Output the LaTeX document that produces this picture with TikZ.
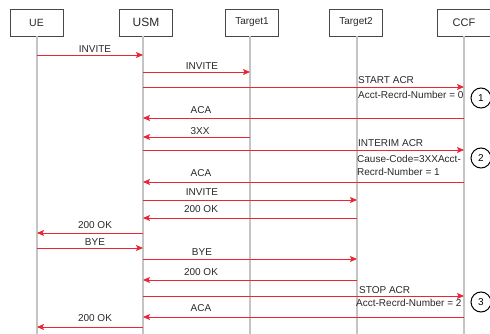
\documentclass[tikz,border=0pt]{standalone}
\usepackage{fontspec}
\setmainfont{Liberation Sans}
\usetikzlibrary{arrows.meta}
\definecolor{msgred}{RGB}{234,38,52}
\definecolor{lifegray}{RGB}{196,196,196}
\definecolor{boxgray}{RGB}{72,72,72}
\definecolor{txtgray}{RGB}{40,40,40}
\def\fs#1{\fontsize{#1}{#1}\selectfont}

\begin{document}
\begin{tikzpicture}[x=1pt,y=-1pt,
	entity/.style={draw=boxgray, line width=0.9pt, minimum width=53pt, minimum height=27pt, inner sep=0pt, text=txtgray, font=\fs{10}},
	life/.style={draw=lifegray, line width=1.3pt},
	msg/.style={draw=msgred, line width=0.9pt, -{Stealth[length=7pt,width=6pt,inset=1.5pt]}},
	msglabel/.style={anchor=base, inner sep=0pt, text=txtgray, font=\fs{10}},
	acrlabel/.style={anchor=base west, inner sep=0pt, text=txtgray, font=\fs{10}},
	stepno/.style={draw, circle, line width=1pt, minimum size=20pt, inner sep=0pt, font=\fs{10}}]
			%%%%% START %%%%%
			\useasboundingbox (0,0) rectangle (490,334);
			
			\node[entity, font=\fs{10.5}] (ue) at (36.5,22.5) {UE};
			\node[entity, font=\fs{12}] (usm) at (146,22.5) {USM};
			\node[entity] (tgt1) at (252,22.5) {Target1};
			\node[entity] (tgt2) at (356,22.5) {Target2};
			\node[entity, font=\fs{11}] (ccf) at (464,22.5) {CCF};
			
			\foreach \n/\x in {ue/37,usm/143,tgt1/250,tgt2/357,ccf/464}{
				\coordinate (\n-l) at (\x,0);
				\draw[life] (\n-l |- \n.south) -- (\n-l |- 0,334);
			}
			
			\draw[msg] (ue-l |- 0,55) -- (usm-l |- 0,55);
			\node[msglabel] (invite1) at (95,52.5) {INVITE};
			
			\draw[msg] (usm-l |- 0,72) -- (tgt1-l |- 0,72);
			\node[msglabel] (invite2) at (202,69.5) {INVITE};
			
			\draw[msg] (usm-l |- 0,87) -- (ccf-l |- 0,87);
			\node[acrlabel] (startacr) at (358,83.5) {START ACR};
			\node[acrlabel] (recnum0) at (358,98.5) {Acct-Recrd-Number = 0};
			\node[stepno] (step1) at (481,98) {1};
			
			\draw[msg] (ccf-l |- 0,118) -- (usm-l |- 0,118);
			\node[msglabel] (aca1) at (201,113.5) {ACA};
			
			\draw[msg] (tgt1-l |- 0,137) -- (usm-l |- 0,137);
			\node[msglabel] (xx) at (200,134.5) {3XX};
			
			\draw[msg] (usm-l |- 0,150) -- (ccf-l |- 0,150);
			\node[acrlabel] (interimacr) at (358,146.5) {INTERIM ACR};
			\node[acrlabel] (cause) at (357,162.5) {Cause-Code=3XXAcct-};
			\node[acrlabel] (recnum1) at (357,175.5) {Recrd-Number = 1};
			\node[stepno] (step2) at (481,158) {2};
			
			\draw[msg] (ccf-l |- 0,182) -- (usm-l |- 0,182);
			\node[msglabel] (aca2) at (201,176.5) {ACA};
			
			\draw[msg] (usm-l |- 0,200) -- (tgt2-l |- 0,200);
			\node[msglabel] (invite3) at (202,195.5) {INVITE};
			
			\draw[msg] (tgt2-l |- 0,218) -- (usm-l |- 0,218);
			\node[msglabel] (ok1) at (201,212.5) {200 OK};
			
			\draw[msg] (usm-l |- 0,233) -- (ue-l |- 0,233);
			\node[msglabel] (ok2) at (95,228.5) {200 OK};
			
			\draw[msg] (ue-l |- 0,248) -- (usm-l |- 0,248);
			\node[msglabel] (bye1) at (95,245.5) {BYE};
			
			\draw[msg] (usm-l |- 0,259) -- (tgt2-l |- 0,259);
			\node[msglabel] (bye2) at (202,255.5) {BYE};
			
			\draw[msg] (tgt2-l |- 0,280) -- (usm-l |- 0,280);
			\node[msglabel] (ok3) at (201,275.5) {200 OK};
			
			\draw[msg] (usm-l |- 0,296) -- (ccf-l |- 0,296);
			\node[acrlabel] (stopacr) at (359,293.5) {STOP ACR};
			\node[acrlabel] (recnum2) at (356,306.5) {Acct-Recrd-Number = 2};
			\node[stepno] (step3) at (481,302) {3};
			
			\draw[msg] (ccf-l |- 0,317) -- (usm-l |- 0,317);
			\node[msglabel] (aca3) at (201,311.5) {ACA};
			
			\draw[msg] (usm-l |- 0,327) -- (ue-l |- 0,327);
			\node[msglabel] (ok4) at (95,321.5) {200 OK};
			
			%%%%% END %%%%%
\end{tikzpicture}
\end{document}
